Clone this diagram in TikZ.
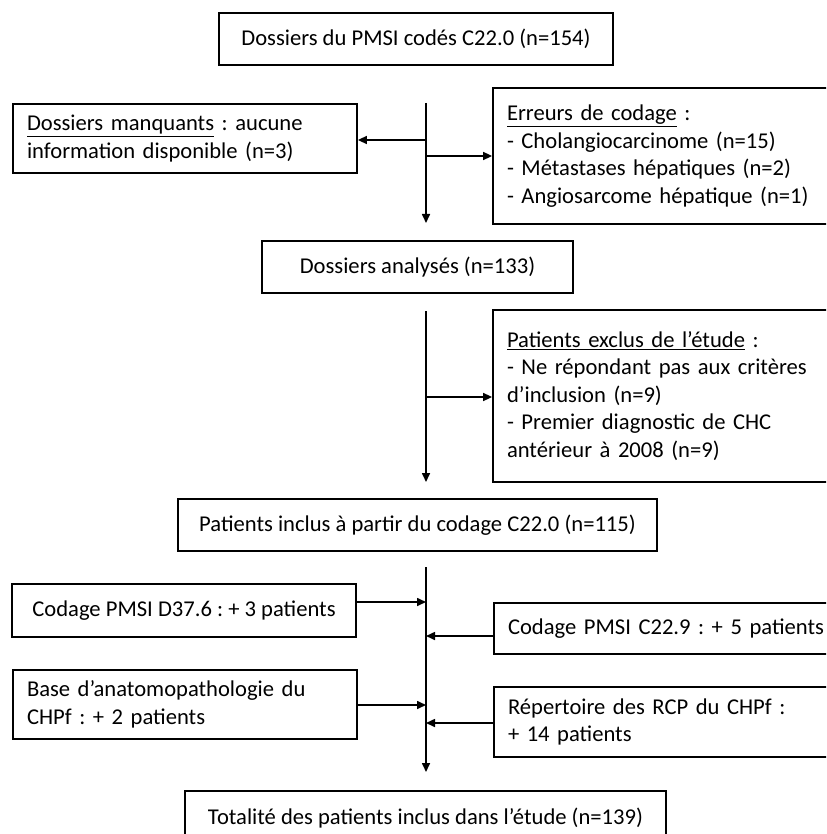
\documentclass[tikz,border=0pt]{standalone}
\usepackage{fontspec}
\setmainfont{Carlito}
\usetikzlibrary{arrows.meta}
\newcommand\fsz{\fontsize{22.6}{27.5}\selectfont\frenchspacing}
\begin{document}
\begin{tikzpicture}[x=1pt,y=-1pt,
  cbox/.style={draw, line width=1.8pt, align=center, inner sep=0pt, font=\fsz},
  lbox/.style={draw, line width=1.8pt, align=left, inner ysep=0pt, inner xsep=14pt, font=\fsz},
  arr/.style={line width=1.6pt, -{Triangle[length=9pt,width=8pt]}}]
\useasboundingbox (0,0) rectangle (826,834);
\clip (0,0) rectangle (826,834);
% boxes
\node[cbox, minimum width=394pt, minimum height=52pt] (b1) at (416,39) {Dossiers du PMSI codés C22.0 (n=154)};
\node[lbox, text width=316pt, minimum height=69pt] (bmiss) at (185,138.5) {\underline{Dossiers manquants} : aucune\\information disponible (n=3)};
\node[lbox, text width=319pt, minimum height=136pt] (berr) at (666.5,156) {\underline{Erreurs de codage} :\\- Cholangiocarcinome (n=15)\\- Métastases hépatiques (n=2)\\- Angiosarcome hépatique (n=1)};
\node[cbox, minimum width=311pt, minimum height=52pt] (bana) at (417.5,267) {Dossiers analysés (n=133)};
\node[lbox, text width=319pt, minimum height=172pt] (bexc) at (666.5,396) {\underline{Patients exclus de l’étude} :\\- Ne répondant pas aux critères\\d’inclusion (n=9)\\- Premier diagnostic de CHC\\antérieur à 2008 (n=9)};
\node[cbox, minimum width=479pt, minimum height=52pt] (binc) at (417.5,525) {Patients inclus à partir du codage C22.0 (n=115)};
\node[cbox, minimum width=344pt, minimum height=53pt] (bd37) at (184,610.5) {Codage PMSI D37.6 : + 3 patients};
\node[lbox, text width=318pt, minimum height=51pt] (bc229) at (667,628.5) {Codage PMSI C22.9 : + 5 patients};
\node[lbox, text width=316pt, minimum height=69pt] (bbase) at (185,704.5) {Base d’anatomopathologie du\\CHPf : + 2 patients};
\node[lbox, text width=318pt, minimum height=70pt] (brep) at (667,722) {Répertoire des RCP du CHPf :\\+ 14 patients};
\node[cbox, minimum width=481pt, minimum height=54pt] (bfin) at (425.5,818) {Totalité des patients inclus dans l’étude (n=139)};
% trunk 1
\coordinate (t1s) at (426,103);
\coordinate (t1e) at (426,223);
\coordinate (j1) at (426,140);
\coordinate (j2) at (426,156);
\draw[arr] (t1s) -- (t1e);
\draw[arr] (j1) -- (bmiss.east |- j1);
\draw[arr] (j2) -- (berr.west |- j2);
% trunk 2
\coordinate (t2s) at (426,311);
\coordinate (t2e) at (426,482);
\coordinate (j3) at (426,397);
\draw[arr] (t2s) -- (t2e);
\draw[arr] (j3) -- (bexc.west |- j3);
% trunk 3
\coordinate (t3s) at (426,567);
\coordinate (t3e) at (426,772);
\coordinate (j4) at (426,602);
\coordinate (j5) at (426,636);
\coordinate (j6) at (426,705);
\coordinate (j7) at (426,723);
\draw[arr] (t3s) -- (t3e);
\draw[arr] (bd37.east |- j4) -- (j4);
\draw[arr] (bc229.west |- j5) -- (j5);
\draw[arr] (bbase.east |- j6) -- (j6);
\draw[arr] (brep.west |- j7) -- (j7);
\end{tikzpicture}
\end{document}
